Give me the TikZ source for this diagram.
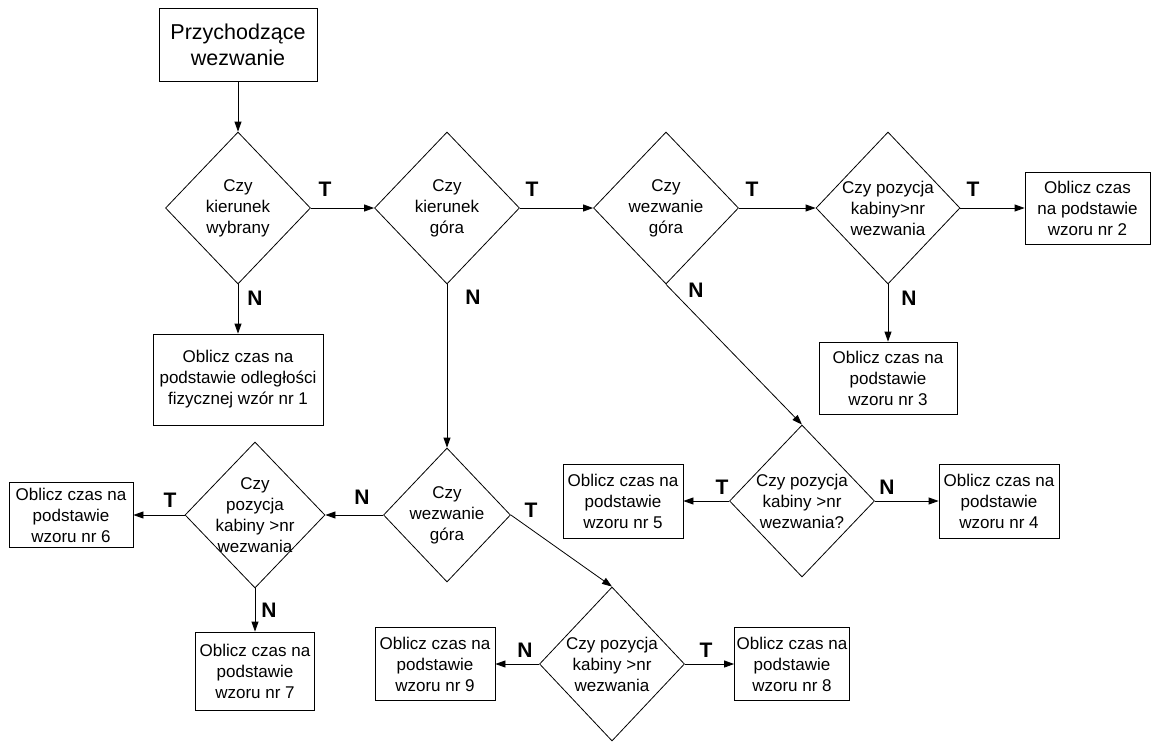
\documentclass[tikz,border=0pt]{standalone}
\usepackage{fontspec}
\setmainfont{Liberation Sans}
\usepackage{tikz}
\usetikzlibrary{shapes.geometric,arrows.meta}

\newcommand{\boxfont}{\fontsize{17}{21}\selectfont}
\newcommand{\startfont}{\fontsize{21.5}{26}\selectfont}
\newcommand{\labfont}{\fontsize{21}{24}\selectfont\bfseries}

\begin{document}
\begin{tikzpicture}[x=1pt,y=1pt,yscale=-1,xscale=1,
    proc/.style={draw, rectangle, line width=0.8pt, align=center, inner sep=0pt, font=\boxfont},
    decision/.style 2 args={draw, diamond, line width=0.8pt, minimum width=#1, minimum height=#2, inner sep=0pt},
    dtxt/.style={align=center, font=\boxfont, inner sep=0pt},
    lab/.style={font=\labfont, inner sep=0pt},
    flow/.style={-{Triangle[length=10pt,width=7pt]}, line width=0.8pt}]
\useasboundingbox (0,0) rectangle (1154,744);

%Shape: Rectangle [start]
\node [proc, font=\startfont, minimum width=158, minimum height=73] (start) at (238,44.5) {Przychodzące\\wezwanie};

%Shape: Diamond [upper row]
\node [decision={145}{152}, label={[dtxt]center:Czy\\kierunek\\wybrany}] (kwyb) at (238,208) {};
\node [decision={145}{152}, label={[dtxt]center:Czy\\kierunek\\góra}] (kgora) at (447,208) {};
\node [decision={145}{152}, label={[dtxt]center:Czy\\wezwanie\\góra}] (wgora) at (666,208) {};
\node [decision={144}{152}, label={[dtxt]center:Czy pozycja\\kabiny>nr\\wezwania}] (pozA) at (888,208) {};

%Shape: Diamond [lower part]
\node [decision={127}{134}, label={[dtxt]center:Czy\\wezwanie\\góra}] (wgoraB) at (447,515) {};
\node [decision={145}{152}, label={[dtxt]center:Czy pozycja\\kabiny >nr\\wezwania?}] (pozB) at (802,501) {};
\node [decision={145}{154}, label={[dtxt]center:Czy pozycja\\kabiny >nr\\wezwania}] (pozC) at (612,664) {};
\node [decision={140}{146}, label={[dtxt]center:Czy\\pozycja\\kabiny >nr\\wezwania}] (pozD) at (255,515) {};

%Shape: Rectangle [results]
\node [proc, minimum width=170, minimum height=91] (wz1) at (238,379.5) {Oblicz czas na\\podstawie odległości\\fizycznej wzór nr 1};
\node [proc, minimum width=125, minimum height=72] (wz2) at (1087.5,208) {Oblicz czas\\na podstawie\\wzoru nr 2};
\node [proc, minimum width=138, minimum height=72] (wz3) at (888,378) {Oblicz czas na\\podstawie\\wzoru nr 3};
\node [proc, minimum width=120, minimum height=74] (wz4) at (999,501) {Oblicz czas na\\podstawie\\wzoru nr 4};
\node [proc, minimum width=120, minimum height=74] (wz5) at (623,501) {Oblicz czas na\\podstawie\\wzoru nr 5};
\node [proc, minimum width=124, minimum height=65] (wz6) at (71,515) {Oblicz czas na\\podstawie\\wzoru nr 6};
\node [proc, minimum width=119, minimum height=78] (wz7) at (255,671) {Oblicz czas na\\podstawie\\wzoru nr 7};
\node [proc, minimum width=115, minimum height=73] (wz8) at (792,664) {Oblicz czas na\\podstawie\\wzoru nr 8};
\node [proc, minimum width=120, minimum height=73] (wz9) at (435,664) {Oblicz czas na\\podstawie\\wzoru nr 9};

% Text Node
\node [lab] (t1) at (325,189) {T};
\node [lab] (n1) at (255,298) {N};
\node [lab] (t2) at (532,189) {T};
\node [lab] (n2) at (473,297) {N};
\node [lab] (t3) at (752,189) {T};
\node [lab] (n3) at (696,290) {N};
\node [lab] (t4) at (973,189) {T};
\node [lab] (n4) at (909,298) {N};
\node [lab] (t5) at (531,510) {T};
\node [lab] (n5) at (362,497) {N};
\node [lab] (t6) at (722,487) {T};
\node [lab] (n6) at (887,487) {N};
\node [lab] (t7) at (706,650) {T};
\node [lab] (n7) at (525,650) {N};
\node [lab] (t8) at (170,500) {T};
\node [lab] (n8) at (269,610) {N};

% Connection
\draw [flow] (start) -- (kwyb.north);
\draw [flow] (kwyb.east) -- (kgora.west);
\draw [flow] (kwyb.south) -- (wz1.north);
\draw [flow] (kgora.east) -- (wgora.west);
\draw [flow] (kgora.south) -- (wgoraB.north);
\draw [flow] (wgora.east) -- (pozA.west);
\draw [flow] (wgora.south) -- (pozB.north);
\draw [flow] (pozA.east) -- (wz2.west);
\draw [flow] (pozA.south) -- (wz3.north);
\draw [flow] (pozB.west) -- (wz5.east);
\draw [flow] (pozB.east) -- (wz4.west);
\draw [flow] (wgoraB.west) -- (pozD.east);
\draw [flow] (wgoraB.east) -- (pozC.north);
\draw [flow] (pozD.west) -- (wz6.east);
\draw [flow] (pozD.south) -- (wz7.north);
\draw [flow] (pozC.west) -- (wz9.east);
\draw [flow] (pozC.east) -- (wz8.west);

\end{tikzpicture}
\end{document}
